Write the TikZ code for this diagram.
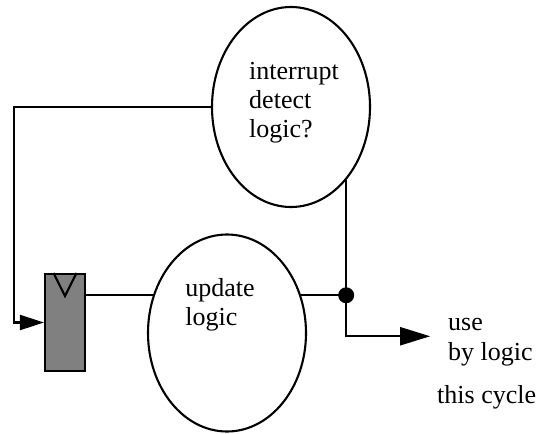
\documentclass[tikz,border=0pt]{standalone}
\usepackage{fontspec}
\setmainfont{Liberation Serif}
\usetikzlibrary{arrows.meta,shapes.geometric}
\tikzset{
  wire/.style={line width=2.1pt},
  blob/.style={draw, ellipse, line width=2.1pt, inner sep=0pt},
  reg/.style={draw, fill=gray, line width=2.1pt, minimum width=40pt, minimum height=97pt, inner sep=0pt},
  txt/.style={font=\fontsize{26}{29}\selectfont, align=left, inner sep=0pt},
  tip/.style={-{Triangle[length=30pt,width=18pt]}},
  smalltip/.style={-{Triangle[length=24pt,width=15pt]}}
}
\begin{document}
\begin{tikzpicture}[x=1pt, y=-1pt]
  \useasboundingbox (0,0) rectangle (545,433);

  \node[blob, minimum width=158pt, minimum height=200pt,
        label={[txt, xshift=3pt, yshift=4pt]center:interrupt\\detect\\logic?}] (det) at (291,107) {};
  \node[blob, minimum width=158pt, minimum height=197pt,
        label={[txt, xshift=-7pt, yshift=28pt]center:update\\logic}] (upd) at (227,333) {};
  \node[reg] (flop) at (65,322.5) {};
  \draw[wire] ([xshift=-11.5pt]flop.north) -- ([yshift=-23pt]flop.north) -- ([xshift=11.5pt]flop.north);

  % feedback into the register
  \draw[wire, smalltip] (det.west) -- ++(-197,0) |- (flop.west);
  \draw[wire] (upd.153 -| flop.east) -- (upd.153);

  % join and output
  \coordinate (j) at (det.-53.5 |- upd.27);
  \draw[wire] (det.-53.5) -- (j);
  \draw[wire] (upd.27) -- (j);
  \fill (j) circle (8pt);
  \draw[wire, tip] (j) |- ++(84,41);

  \node[txt, anchor=base west] (use) at (448,330) {use};
  \node[txt, anchor=base west] (by) at (448,360) {by logic};
  \node[txt, anchor=base west] (cyc) at (437,403) {this cycle};
\end{tikzpicture}
\end{document}
